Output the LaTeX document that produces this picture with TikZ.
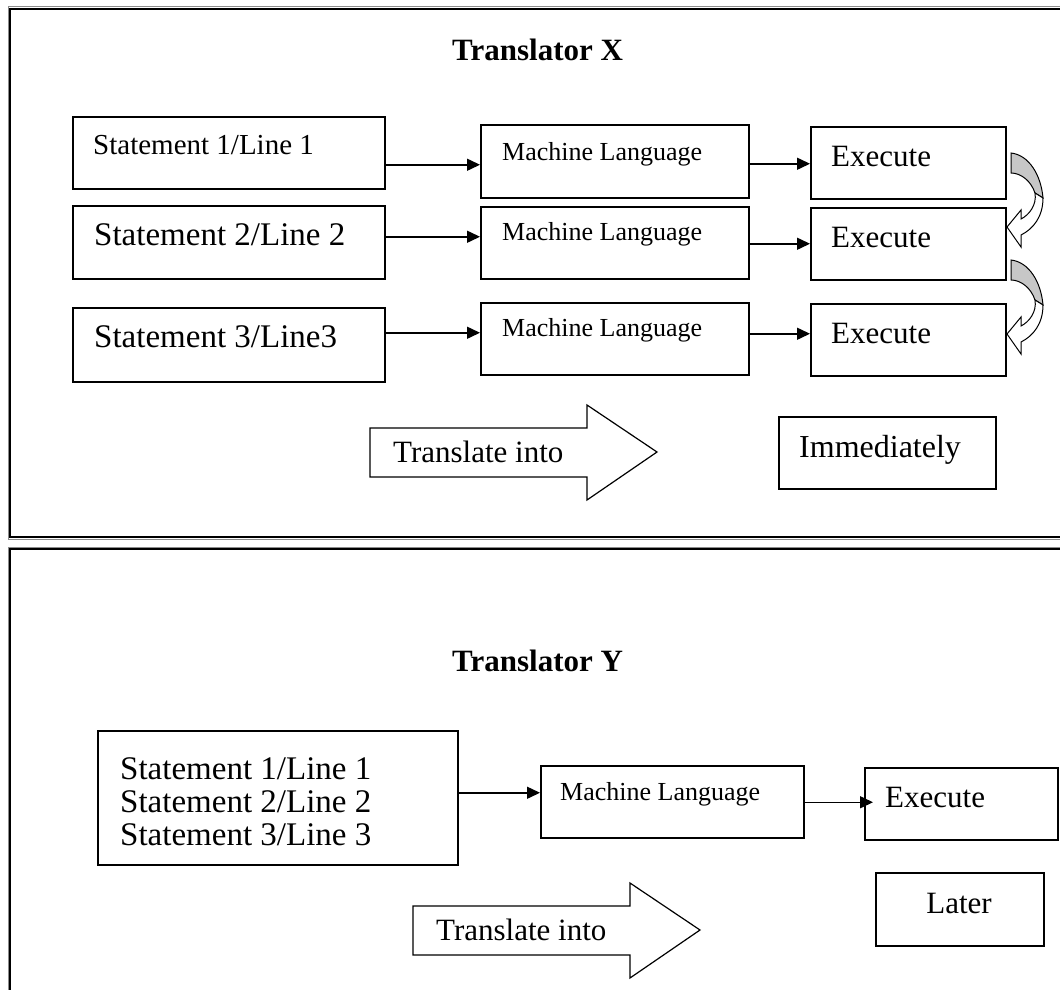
\documentclass[tikz,border=0pt]{standalone}
\usepackage{fontspec}
\setmainfont{Liberation Serif}
\usetikzlibrary{arrows.meta}
\newcommand\fsz[1]{\fontsize{#1}{#1}\selectfont}
\tikzset{
  frameline/.style={line width=2pt},
  framegray/.style={line width=1pt, black!45},
  box/.style={draw, line width=1.5pt, inner sep=0pt, anchor=north west},
  txt/.style={anchor=base west, inner sep=0pt},
  conn/.style={line width=1.5pt, -{Triangle[length=13pt,width=12pt]}},
  blockarrow/.style={draw, line width=1.2pt, fill=white},
  curvearrow/.style={draw, line width=1pt}
}
\begin{document}
\begin{tikzpicture}[x=1pt, y=-1pt]
\path[use as bounding box] (0,0) rectangle (1060,990);
\clip (0,0) rectangle (1060,990);

% frames
\draw[framegray] (1070,7) -- (8,7) -- (8,539) -- (1070,539);
\draw[frameline] (1070,9) -- (10,9) -- (10,537) -- (1070,537);
\draw[framegray] (1070,547) -- (8,547) -- (8,1000);
\draw[frameline] (1070,549) -- (10,549) -- (10,1000);

% Translator X
\node[txt, font=\fsz{31}\bfseries] (titlex) at (452,61) {Translator X};

\node[box, minimum width=312pt, minimum height=72pt] (s1) at (72,116) {};
\node[box, minimum width=312pt, minimum height=73pt] (s2) at (72,205) {};
\node[box, minimum width=312pt, minimum height=74pt] (s3) at (72,307) {};
\node[txt, font=\fsz{29}] at (93,154) {Statement 1/Line 1};
\node[txt, font=\fsz{33}] at (94,245) {Statement 2/Line 2};
\node[txt, font=\fsz{33}] at (94,347) {Statement 3/Line3};

\node[box, minimum width=268pt, minimum height=73pt] (ml1) at (480,124) {};
\node[box, minimum width=268pt, minimum height=72pt] (ml2) at (480,206) {};
\node[box, minimum width=268pt, minimum height=72pt] (ml3) at (480,302) {};
\foreach \y in {160,240,336}
  \node[txt, font=\fsz{26}] at (502,\y) {Machine Language};

\node[box, minimum width=195pt, minimum height=72pt] (ex1) at (810,126) {};
\node[box, minimum width=195pt, minimum height=72pt] (ex2) at (810,207) {};
\node[box, minimum width=195pt, minimum height=72pt] (ex3) at (810,303) {};
\foreach \y in {166,247,343}
  \node[txt, font=\fsz{31}] at (831,\y) {Execute};

\draw[conn] ([yshift=-12pt]s1.east) -- ([yshift=-12pt]s1.east -| ml1.west);
\draw[conn] ([yshift=5.5pt]s2.east) -- ([yshift=5.5pt]s2.east -| ml2.west);
\draw[conn] ([yshift=12pt]s3.east) -- ([yshift=12pt]s3.east -| ml3.west);
\draw[conn] ([yshift=-2.5pt]ml1.east) -- ([yshift=-2.5pt]ml1.east -| ex1.west);
\draw[conn] ([yshift=-1pt]ml2.east) -- ([yshift=-1pt]ml2.east -| ex2.west);
\draw[conn] ([yshift=5pt]ml3.east) -- ([yshift=5pt]ml3.east -| ex3.west);

% curved arrows between the Execute boxes
\foreach \y in {153,260}
{
  \begin{scope}[shift={(1011,\y)}]
    \draw[curvearrow, fill=black!22] (0,0) .. controls (18,2) and (30,22) .. (32,45)
      -- (24,40) .. controls (20,28) and (10,20) .. (0,20) -- cycle;
    \draw[curvearrow, fill=white] (32,45) .. controls (32,64) and (22,76) .. (10,82)
      -- (10,94) -- (-4,74) -- (10,57) -- (10,66)
      .. controls (18,62) and (26,52) .. (24,40) -- cycle;
  \end{scope}
}

% Translate into arrows
\foreach \dx/\dy in {0/0, 43/478}
{
  \draw[blockarrow] (370+\dx,428+\dy) -- (587+\dx,428+\dy) -- (587+\dx,405+\dy)
    -- (657+\dx,452+\dy) -- (587+\dx,500+\dy) -- (587+\dx,477+\dy)
    -- (370+\dx,477+\dy) -- cycle;
}
\node[txt, font=\fsz{31}] (trx) at (393,462) {Translate into};
\node[box, minimum width=217pt, minimum height=72pt] (imm) at (778,416) {};
\node[txt, font=\fsz{32}] at (799,457) {Immediately};

% Translator Y
\node[txt, font=\fsz{31}\bfseries] (titley) at (452,671) {Translator Y};

\node[box, minimum width=360pt, minimum height=134pt] (sall) at (97,730) {};
\node[txt, font=\fsz{33}] at (120,779) {Statement 1/Line 1};
\node[txt, font=\fsz{33}] at (120,812) {Statement 2/Line 2};
\node[txt, font=\fsz{33}] at (120,845) {Statement 3/Line 3};

\node[box, minimum width=263pt, minimum height=72pt] (mlall) at (540,765) {};
\node[txt, font=\fsz{26}] at (560,800) {Machine Language};
\node[box, minimum width=193pt, minimum height=72pt] (exall) at (864,767) {};
\node[txt, font=\fsz{31}] at (885,807) {Execute};

\draw[conn] ([yshift=5pt]sall.east) -- ([yshift=5pt]sall.east -| mlall.west);
\draw[conn, shorten >=-9pt] ([yshift=-0.5pt]mlall.east) -- ([yshift=-0.5pt]mlall.east -| exall.west);

\node[txt, font=\fsz{31}] (try) at (436,940) {Translate into};
\node[box, minimum width=168pt, minimum height=73pt] (later) at (875,872) {};
\node[anchor=base, inner sep=0pt, font=\fsz{31}] at (959,913) {Later};
\end{tikzpicture}
\end{document}
